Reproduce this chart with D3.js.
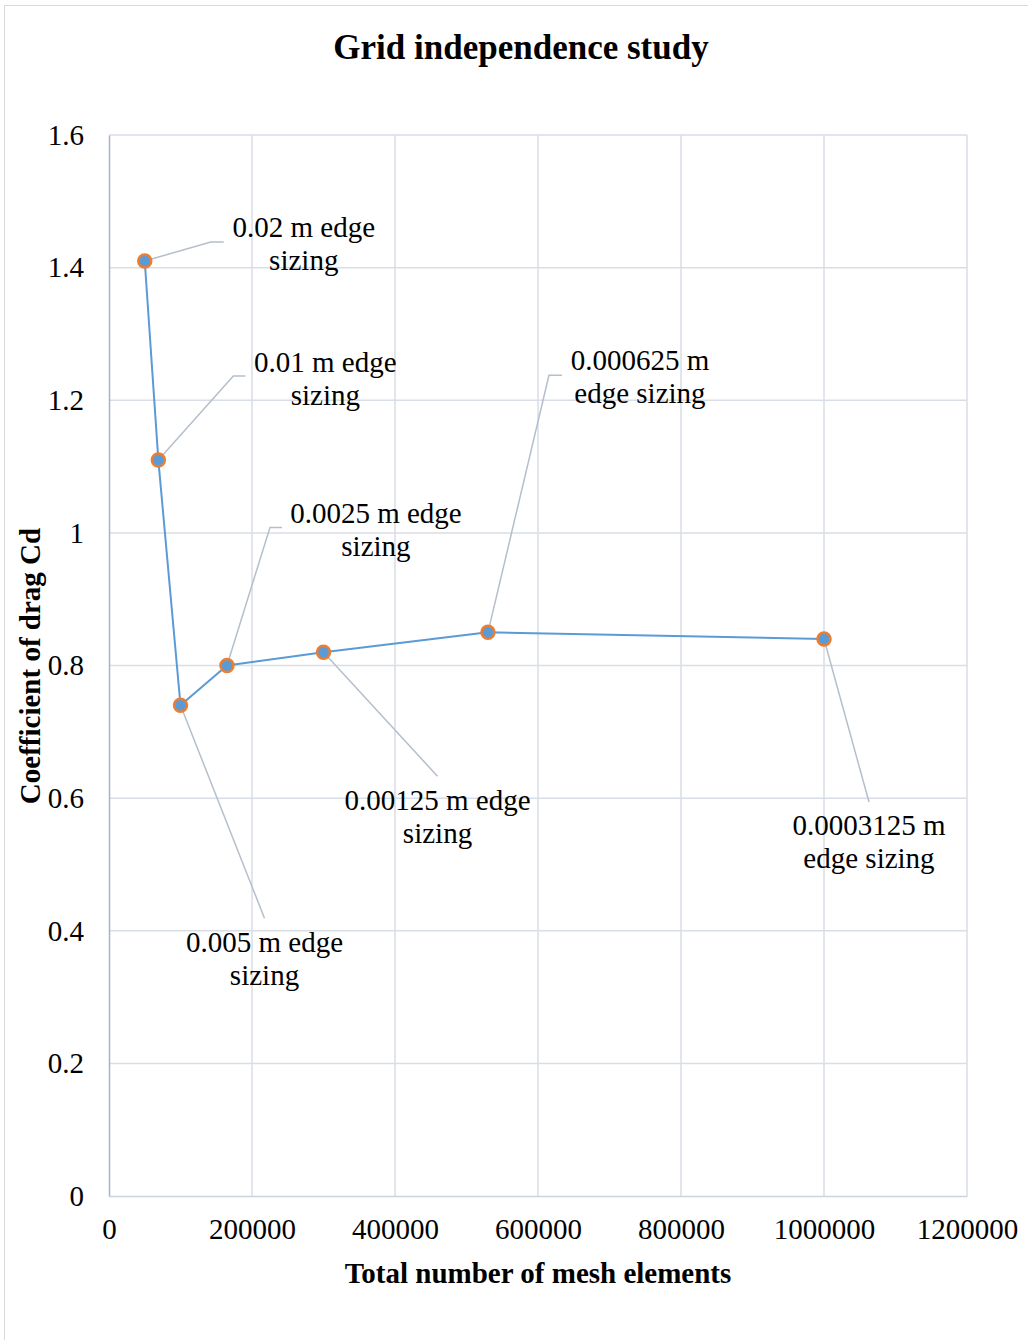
<!DOCTYPE html>
<html>
<head>
<meta charset="utf-8">
<script src="https://cdn.jsdelivr.net/npm/d3@7"></script>
<style>
  html, body { margin: 0; padding: 0; background: #fff; }
  svg { display: block; font-family: "Liberation Serif", "Times New Roman", serif; }
</style>
</head>
<body>
<svg id="chart" width="1028" height="1340"></svg>
<script>
// Mesh elements vs. drag coefficient for each edge-sizing setting
const meshElements = [50000, 69000, 100000, 165000, 300000, 530000, 1000000];
const dragCoeff = [1.41, 1.11, 0.74, 0.80, 0.82, 0.85, 0.84];
const sizingLabels = [
  ["0.02 m edge", "sizing"],
  ["0.01 m edge", "sizing"],
  ["0.005 m edge", "sizing"],
  ["0.0025 m edge", "sizing"],
  ["0.00125 m edge", "sizing"],
  ["0.000625 m", "edge sizing"],
  ["0.0003125 m", "edge sizing"]
];
const xTicks = [0, 200000, 400000, 600000, 800000, 1000000, 1200000];
const yTicks = [0, 0.2, 0.4, 0.6, 0.8, 1, 1.2, 1.4, 1.6];

// Callout placement relative to each point (pixels): text centre, leader end, elbow length
const callouts = [
  { tx: 159, ty: -34, lx: 66, ly: -19, elbow: 13 },
  { tx: 167, ty: -98, lx: 75, ly: -84, elbow: 12 },
  { tx: 84,  ty: 237, lx: 84, ly: 213, elbow: 0 },
  { tx: 149, ty: -153, lx: 43, ly: -138, elbow: 12 },
  { tx: 114, ty: 148, lx: 114, ly: 124, elbow: 0 },
  { tx: 152, ty: -272, lx: 61, ly: -257, elbow: 13 },
  { tx: 45,  ty: 186, lx: 45, ly: 163, elbow: 0 }
];

const svg = d3.select("#chart");
const margin = { left: 109, right: 1028 - 967, top: 135, bottom: 1340 - 1196 };
const W = 1028, H = 1340;

const x = d3.scaleLinear().domain([0, 1200000]).range([margin.left, W - margin.right]);
const y = d3.scaleLinear().domain([0, 1.6]).range([H - margin.bottom, margin.top]);

// outer chart frame
svg.append("rect")
  .attr("x", 4.5).attr("y", 5.5)
  .attr("width", 1040).attr("height", 1350)
  .attr("fill", "#fff").attr("stroke", "#d9d9d9").attr("stroke-width", 1);

// title
svg.append("text")
  .attr("x", 521).attr("y", 59)
  .attr("text-anchor", "middle")
  .attr("font-weight", "bold").attr("font-size", 35)
  .text("Grid independence study");

// gridlines
const grid = svg.append("g").attr("stroke", "#d9dee6").attr("stroke-width", 1.5);
grid.selectAll("line.h").data(yTicks.filter(d => d > 0)).join("line")
  .attr("x1", x(0)).attr("x2", x(1200000))
  .attr("y1", d => y(d)).attr("y2", d => y(d));
grid.selectAll("line.v").data(xTicks.filter(d => d > 0)).join("line")
  .attr("y1", y(0)).attr("y2", y(1.6))
  .attr("x1", d => x(d)).attr("x2", d => x(d));

// axes
const xAxis = d3.axisBottom(x).tickValues(xTicks).tickSize(0).tickPadding(22).tickFormat(d3.format("d"));
const yAxis = d3.axisLeft(y).tickValues(yTicks).tickSize(0).tickPadding(25).tickFormat(d => String(d));

const gx = svg.append("g").attr("transform", `translate(0,${y(0)})`).call(xAxis);
gx.select(".domain").attr("stroke", "#cdd3dc").attr("stroke-width", 1.5);
gx.selectAll("text").attr("font-size", 29).attr("fill", "#000").attr("font-family", "Liberation Serif");

const gy = svg.append("g").attr("transform", `translate(${x(0)},0)`).call(yAxis);
gy.select(".domain").attr("stroke", "#a7b3c5").attr("stroke-width", 1.5);
gy.selectAll("text").attr("font-size", 29).attr("fill", "#000").attr("font-family", "Liberation Serif");

// axis titles
svg.append("text")
  .attr("x", 538).attr("y", 1283)
  .attr("text-anchor", "middle")
  .attr("font-weight", "bold").attr("font-size", 29)
  .text("Total number of mesh elements");
svg.append("text")
  .attr("transform", "translate(40,666) rotate(-90)")
  .attr("text-anchor", "middle")
  .attr("font-weight", "bold").attr("font-size", 29)
  .text("Coefficient of drag Cd");

const pts = meshElements.map((m, i) => ({ m, cd: dragCoeff[i], label: sizingLabels[i], c: callouts[i] }));

// leader lines
const leaders = svg.append("g").attr("fill", "none").attr("stroke", "#b4bfcc").attr("stroke-width", 1.5);
pts.forEach(p => {
  const px = x(p.m), py = y(p.cd);
  const ex = px + p.c.lx, ey = py + p.c.ly;
  const path = d3.path();
  path.moveTo(px, py);
  path.lineTo(ex, ey);
  if (p.c.elbow) path.lineTo(ex + p.c.elbow, ey);
  leaders.append("path").attr("d", path.toString());
});

// series line
svg.append("path")
  .datum(pts)
  .attr("fill", "none").attr("stroke", "#5b9bd5").attr("stroke-width", 2)
  .attr("d", d3.line().x(d => x(d.m)).y(d => y(d.cd)));

// markers
svg.append("g").selectAll("circle").data(pts).join("circle")
  .attr("cx", d => x(d.m)).attr("cy", d => y(d.cd)).attr("r", 6.5)
  .attr("fill", "#5b9bd5").attr("stroke", "#ed7d31").attr("stroke-width", 2.5);

// callout texts
const labels = svg.append("g").attr("font-size", 29).attr("text-anchor", "middle").attr("fill", "#000");
pts.forEach(p => {
  const cx = x(p.m) + p.c.tx, cy = y(p.cd) + p.c.ty;
  const t = labels.append("text").attr("x", cx).attr("y", cy + 10);
  p.label.forEach((line, k) => {
    t.append("tspan").attr("x", cx).attr("dy", k === 0 ? 0 : 33).text(line);
  });
});
</script>
</body>
</html>
